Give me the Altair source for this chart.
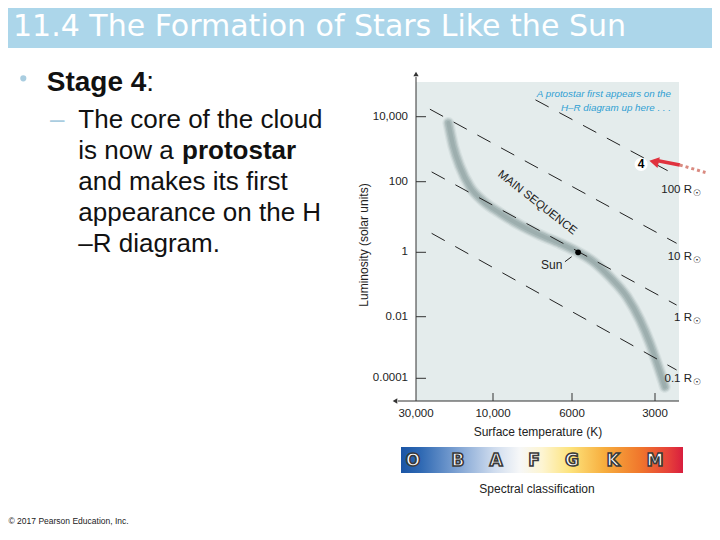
import altair as alt
import pandas as pd

# ---------------- data ----------------
# main sequence (surface temperature K, luminosity in solar units)
MS_T = [18900, 17600, 16000, 13900, 11500, 9560, 8400, 7380, 6480, 5700,
        5020, 4370, 3790, 3400, 3130, 2920, 2760]
MS_L = [6400, 1200, 290, 72, 28, 13, 5.9, 3.1, 1.78, 1.0,
        0.51, 0.17, 0.041, 0.0078, 0.00137, 0.00024, 0.000053]

# lines of constant radius (start / end points)
R_NAMES = ["100", "10", "1", "0.1"]
R_T0 = [7600, 24600, 24000, 24000]
R_L0 = [33000, 17000, 200, 3.45]
R_T1 = [2480, 2500, 2500, 2500]
R_L1 = [150, 1.8, 0.023, 0.000186]
R_LABEL_T = [2450, 2450, 2450, 2450]
R_LABEL_L = [58, 0.73, 0.00887, 0.000093]

SUN_T, SUN_L = [5700], [1.0]
SUN_LEADER_T = [6280, 6013]
SUN_LEADER_L = [0.51, 0.73]
SUN_TEXT_T, SUN_TEXT_L = [6840], [0.39]

STAGE4_T, STAGE4_L = [3370], [340]
ARROW_SOLID_T = [2957, 2434]
ARROW_SOLID_L = [449, 327]
ARROW_DOT_T = [2434, 1959]
ARROW_DOT_L = [327, 192]
ARROW_HEAD_T, ARROW_HEAD_L = [3025], [412]

MS_TEXT_T, MS_TEXT_L = [7520], [25]

X_TICKS = [30000, 10000, 6000, 3000]
X_TICK_LABELS = ["30,000", "10,000", "6000", "3000"]
Y_TICKS = [10000, 100, 1, 0.01, 0.0001]
Y_TICK_LABELS = ["10,000", "100", "1", "0.01", "0.0001"]

SPECTRAL = ["O", "B", "A", "F", "G", "K", "M"]

# ---------------- styling / layout ----------------
FONT = "Liberation Sans"
W, H = 263, 319
xscale = alt.Scale(type="log", domain=[30000, 10000, 6000, 3000, 2450],
                   range=[0, 77, 156, 239, 263], nice=False)
yscale = alt.Scale(type="log", domain=[1.83e-5, 1e-4, 1e-2, 1, 1e2, 1e4, 1.17e5],
                   range=[319, 296.3, 234.7, 170.3, 99.7, 34.7, 0], nice=False)


def X():
    return alt.X("T:Q", scale=xscale, axis=None)


def Y():
    return alt.Y("L:Q", scale=yscale, axis=None)


ONE = alt.Data(values=[{}])


def txt(s, x, y, size, align="left", baseline="alphabetic", **kw):
    kw.setdefault("font", FONT)
    return alt.Chart(ONE).mark_text(text=s, fontSize=size, align=align,
                                    baseline=baseline, **kw).encode(
        x=alt.value(x), y=alt.value(y))


layers = []

# title bar
layers.append(alt.Chart(ONE).mark_rect(color="#acd6ea").encode(
    x=alt.value(-408), x2=alt.value(296), y=alt.value(-74), y2=alt.value(-34)))
layers.append(txt("11.4 The Formation of Stars Like the Sun", -403, -46.5, 30,
                  color="white", font="DejaVu Sans"))

# left bullet text
layers.append(alt.Chart(ONE).mark_point(shape="circle", filled=True, size=38,
                                        color="#a9cde0", opacity=1).encode(
    x=alt.value(-392.7), y=alt.value(-3.7)))
layers.append(txt("Stage 4", -369.3, 9, 28, fontWeight="bold", color="#111"))
layers.append(txt(":", -269.7, 9, 28, color="#111"))
layers.append(txt("–", -366, 46.3, 26, color="#a9cde0"))
body = ["The core of the cloud", "is now a", "and makes its first",
        "appearance on the H", "–R diagram."]
base = [46.3, 77.3, 108, 139, 169.7]
for s, b in zip(body, base):
    layers.append(txt(s, -337.7, b, 26, color="#111"))
layers.append(txt("protostar", -234, 77.3, 26, fontWeight="bold", color="#111"))

# copyright
layers.append(txt("© 2017 Pearson Education, Inc.", -407.5, 442, 8.5, color="#222"))

# radius lines
rl = pd.DataFrame({
    "R": R_NAMES + R_NAMES,
    "T": R_T0 + R_T1,
    "L": R_L0 + R_L1,
    "o": [0] * 4 + [1] * 4,
})
# main sequence band (soft grey tube)
ms = pd.DataFrame({"T": MS_T, "L": MS_L, "o": list(range(len(MS_T)))})
for w, c, op in [(12, "#cdd8d8", 0.6), (9.5, "#b9c7c7", 0.75), (7, "#a7b7b7", 0.85),
                 (4, "#9badad", 0.9)]:
    layers.append(alt.Chart(ms).mark_line(strokeWidth=w, color=c, opacity=op,
                                          interpolate="monotone", strokeCap="round").encode(
        x=X(), y=Y(), order="o:Q"))

layers.append(alt.Chart(rl).mark_line(color="#222", strokeWidth=1,
                                      strokeDash=[15, 12]).encode(
    x=X(), y=Y(), detail="R:N", order="o:Q"))

# radius labels
rlab = pd.DataFrame({"T": R_LABEL_T, "L": R_LABEL_L,
                     "label": [r + " R" for r in R_NAMES]})
layers.append(alt.Chart(rlab).mark_text(align="right", baseline="middle", dx=13,
                                        fontSize=11.5, font=FONT, color="#222").encode(
    x=X(), y=Y(), text="label:N"))
layers.append(alt.Chart(rlab).mark_text(align="center", baseline="middle", dx=18, dy=3,
                                        fontSize=9, font="DejaVu Sans", color="#222",
                                        text="☉").encode(x=X(), y=Y()))

# MAIN SEQUENCE label
layers.append(alt.Chart(pd.DataFrame({"T": MS_TEXT_T, "L": MS_TEXT_L})).mark_text(
    text="MAIN SEQUENCE", angle=38, fontSize=11.5, font=FONT, color="#222",
    align="center", baseline="middle").encode(x=X(), y=Y()))

# Sun
layers.append(alt.Chart(pd.DataFrame({"T": SUN_T, "L": SUN_L})).mark_point(
    shape="circle", filled=True, size=34, color="black", opacity=1).encode(x=X(), y=Y()))
layers.append(alt.Chart(pd.DataFrame({"T": SUN_LEADER_T, "L": SUN_LEADER_L})).mark_line(
    color="#222", strokeWidth=1).encode(x=X(), y=Y()))
layers.append(alt.Chart(pd.DataFrame({"T": SUN_TEXT_T, "L": SUN_TEXT_L})).mark_text(
    text="Sun", fontSize=12, font=FONT, color="#222", align="center",
    baseline="middle").encode(x=X(), y=Y()))

# protostar annotation text
layers.append(txt(["A protostar first appears on the", "H–R diagram up here . . ."],
                  255, 15, 9.8, align="right", color="#2f9fd3", fontStyle="italic",
                  lineHeight=13.5))

# arrow
layers.append(alt.Chart(pd.DataFrame({"T": ARROW_DOT_T, "L": ARROW_DOT_L})).mark_line(
    color="#d98a80", strokeWidth=3, strokeDash=[3, 3]).encode(x=X(), y=Y()))
layers.append(alt.Chart(pd.DataFrame({"T": ARROW_SOLID_T, "L": ARROW_SOLID_L})).mark_line(
    color="#e0323e", strokeWidth=3.5).encode(x=X(), y=Y()))
layers.append(alt.Chart(pd.DataFrame({"T": ARROW_HEAD_T, "L": ARROW_HEAD_L})).mark_point(
    shape="triangle-left", filled=True, size=120, angle=12, color="#e0323e",
    opacity=1).encode(x=X(), y=Y()))

# stage 4 marker
st = pd.DataFrame({"T": STAGE4_T, "L": STAGE4_L})
layers.append(alt.Chart(st).mark_point(shape="circle", filled=True, size=170,
                                       color="white", opacity=1).encode(x=X(), y=Y()))
layers.append(alt.Chart(st).mark_text(text="4", fontSize=12, fontWeight="bold", font=FONT,
                                      color="black", align="center",
                                      baseline="middle").encode(x=X(), y=Y()))

# axes (drawn by hand: inward ticks, arrows)
layers.append(alt.Chart(ONE).mark_rule(color="#333", strokeWidth=1).encode(
    x=alt.value(0), y=alt.value(-5), y2=alt.value(H)))
layers.append(alt.Chart(ONE).mark_rule(color="#333", strokeWidth=1).encode(
    x=alt.value(-18), x2=alt.value(W), y=alt.value(H)))
layers.append(alt.Chart(ONE).mark_point(shape="triangle-up", filled=True, size=28,
                                        color="#333", opacity=1).encode(
    x=alt.value(0), y=alt.value(-8)))
layers.append(alt.Chart(ONE).mark_point(shape="triangle-left", filled=True, size=28,
                                        color="#333", opacity=1).encode(
    x=alt.value(-21), y=alt.value(H)))

yt = pd.DataFrame({"L": Y_TICKS, "label": Y_TICK_LABELS})
layers.append(alt.Chart(yt).mark_rule(color="#333", strokeWidth=1).encode(
    y=Y(), x=alt.value(0), x2=alt.value(10)))
layers.append(alt.Chart(yt).mark_text(align="right", baseline="middle", fontSize=11.5,
                                      font=FONT, color="#222").encode(
    y=Y(), x=alt.value(-8), text="label:N"))

xt = pd.DataFrame({"T": X_TICKS, "label": X_TICK_LABELS})
layers.append(alt.Chart(xt[xt["T"] < 30000]).mark_rule(color="#333", strokeWidth=1).encode(
    x=X(), y=alt.value(H - 8), y2=alt.value(H)))
layers.append(alt.Chart(xt).mark_text(align="center", baseline="middle", fontSize=11.5,
                                      font=FONT, color="#222").encode(
    x=X(), y=alt.value(332), text="label:N"))

layers.append(txt("Surface temperature (K)", 122, 350, 12, align="center",
                  baseline="middle", color="#222"))
layers.append(txt("Luminosity (solar units)", -52.5, 163, 12, align="center",
                  baseline="middle", angle=270, color="#222"))

# spectral classification bar
grad = {
    "gradient": "linear", "x1": 0, "x2": 1, "y1": 0, "y2": 0,
    "stops": [
        {"offset": 0.0, "color": "#1a55a5"},
        {"offset": 0.07, "color": "#2f69b3"},
        {"offset": 0.2, "color": "#7fa3d3"},
        {"offset": 0.33, "color": "#cfdcee"},
        {"offset": 0.42, "color": "#f6f7f8"},
        {"offset": 0.5, "color": "#fdf5d2"},
        {"offset": 0.6, "color": "#fde37c"},
        {"offset": 0.72, "color": "#f7ae3e"},
        {"offset": 0.85, "color": "#f0762c"},
        {"offset": 0.95, "color": "#e6403a"},
        {"offset": 1.0, "color": "#d81e3e"},
    ],
}
layers.append(alt.Chart(ONE).mark_rect(fill=grad).encode(
    x=alt.value(-15), x2=alt.value(267), y=alt.value(365), y2=alt.value(391)))
SPEC_X = [-3, 42, 80, 118, 156, 197, 239]
for letter, px in zip(SPECTRAL, SPEC_X):
    layers.append(txt(letter, px, 379, 17, align="center", baseline="middle",
                      fontWeight="bold", fill="white", stroke="#3a3a3a",
                      strokeWidth=1.6, font="DejaVu Sans"))
layers.append(txt("Spectral classification", 121, 407, 12, align="center",
                  baseline="middle", color="#222"))

chart = alt.layer(*layers).properties(
    width=W, height=H,
    padding={"left": 408, "top": 74, "right": 33, "bottom": 129},
    autosize=alt.AutoSizeParams(type="none"),
    background="white",
).configure_view(fill="#e4ecec", stroke=None)

chart.save("out.html", embed_options={"renderer": "svg", "actions": False})
